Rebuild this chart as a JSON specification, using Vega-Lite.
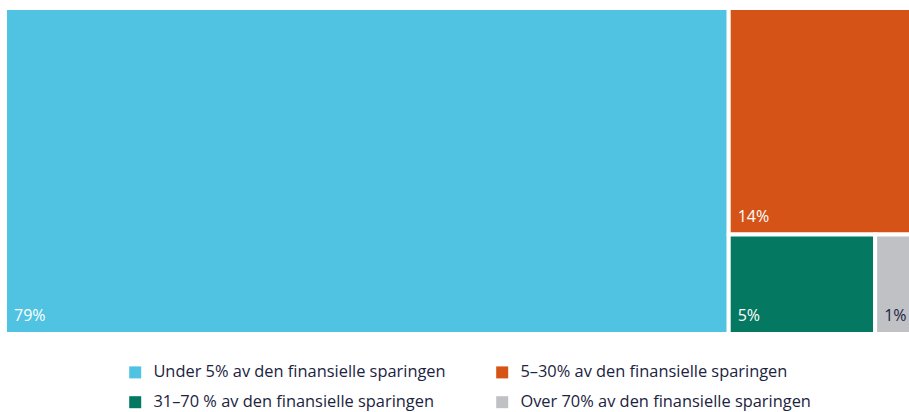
{
  "$schema": "https://vega.github.io/schema/vega-lite/v6.json",
  "width": 906,
  "height": 326,
  "autosize": {"type": "none"},
  "padding": {"left": 5, "top": 8, "right": 0, "bottom": 78},
  "background": "white",
  "config": {"view": {"stroke": null}, "font": "Open Sans"},
  "data": {
    "values": [
      {"kategori": "Under 5% av den finansielle sparingen", "andel": 79.4},
      {"kategori": "5–30% av den finansielle sparingen", "andel": 13.9},
      {"kategori": "31–70 % av den finansielle sparingen", "andel": 4.9},
      {"kategori": "Over 70% av den finansielle sparingen", "andel": 1.2}
    ]
  },
  "transform": [
    {"window": [{"op": "row_number", "as": "idx"}, {"op": "sum", "field": "andel", "as": "cum"}], "sort": [{"field": "andel", "order": "descending"}], "frame": [null, 0]},
    {"joinaggregate": [{"op": "sum", "field": "andel", "as": "total"}, {"op": "max", "field": "andel", "as": "first"}]},
    {"calculate": "datum.idx == 2 ? datum.andel : 0", "as": "s2"},
    {"joinaggregate": [{"op": "sum", "field": "s2", "as": "second"}]},
    {"calculate": "datum.total - datum.first", "as": "rest"},
    {"calculate": "datum.rest - datum.second", "as": "bottom"},
    {"calculate": "datum.idx == 1 ? 0 : (datum.idx == 2 ? datum.first : datum.first + (datum.cum - datum.andel - datum.first - datum.second) / datum.bottom * datum.rest)", "as": "x0"},
    {"calculate": "datum.idx == 1 ? datum.first : (datum.idx == 2 ? datum.total : datum.first + (datum.cum - datum.first - datum.second) / datum.bottom * datum.rest)", "as": "x1"},
    {"calculate": "datum.idx <= 2 ? 0 : datum.second / datum.rest", "as": "y0"},
    {"calculate": "datum.idx == 2 ? datum.second / datum.rest : 1", "as": "y1"},
    {"calculate": "format(datum.andel, '.0f') + '%'", "as": "etikett"}
  ],
  "layer": [
    {
      "mark": {"type": "rect", "stroke": "white", "strokeWidth": 4},
      "encoding": {
        "x": {"field": "x0", "type": "quantitative", "scale": {"nice": false, "zero": true}, "axis": null},
        "x2": {"field": "x1"},
        "y": {"field": "y0", "type": "quantitative", "scale": {"domain": [0, 1], "reverse": true, "nice": false}, "axis": null},
        "y2": {"field": "y1"},
        "color": {
          "field": "kategori",
          "type": "nominal",
          "sort": ["Under 5% av den finansielle sparingen", "5–30% av den finansielle sparingen", "31–70 % av den finansielle sparingen", "Over 70% av den finansielle sparingen"],
          "scale": {
            "domain": ["Under 5% av den finansielle sparingen", "5–30% av den finansielle sparingen", "31–70 % av den finansielle sparingen", "Over 70% av den finansielle sparingen"],
            "range": ["#4FC3E1", "#D55316", "#047860", "#BFC1C5"]
          },
          "legend": {
            "title": null,
            "orient": "none",
            "legendX": 122,
            "legendY": 356,
            "columns": 2,
            "direction": "horizontal",
            "symbolType": "square",
            "symbolSize": 144,
            "symbolStrokeWidth": 0,
            "labelFontSize": 16.4,
            "labelFont": "Open Sans",
            "labelColor": "#1c2340",
            "labelOffset": 10,
            "rowPadding": 13,
            "columnPadding": 48,
            "padding": 0,
            "labelLimit": 400
          }
        }
      }
    },
    {
      "mark": {"type": "text", "align": "left", "baseline": "alphabetic", "dx": 9, "dy": -13, "fontSize": 16, "font": "Open Sans"},
      "encoding": {
        "x": {"field": "x0", "type": "quantitative"},
        "y": {"field": "y1", "type": "quantitative"},
        "text": {"field": "etikett"},
        "color": {"condition": {"test": "datum.idx == 4", "value": "#1c2340"}, "value": "white"}
      }
    }
  ]
}
